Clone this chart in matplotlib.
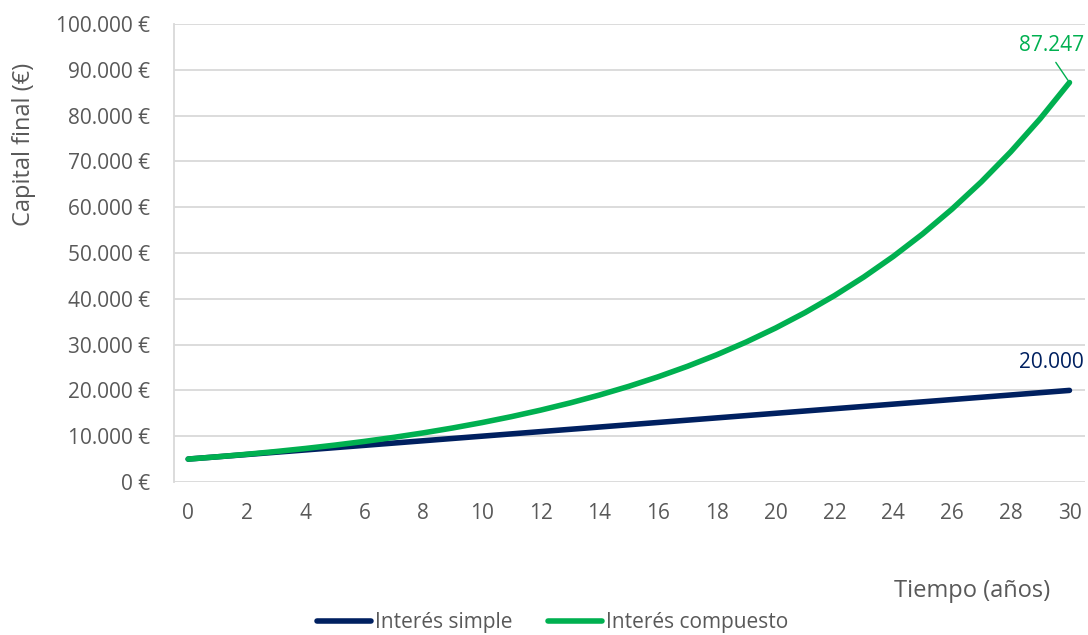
import matplotlib.pyplot as plt
from matplotlib.ticker import FuncFormatter

# capital over time, 5.000 € at 10 % per year
years = list(range(31))
simple = [5000, 5500, 6000, 6500, 7000, 7500, 8000, 8500, 9000, 9500,
          10000, 10500, 11000, 11500, 12000, 12500, 13000, 13500, 14000, 14500,
          15000, 15500, 16000, 16500, 17000, 17500, 18000, 18500, 19000, 19500,
          20000]
compound = [5000.00, 5500.00, 6050.00, 6655.00, 7320.50, 8052.55, 8857.81,
            9743.59, 10717.94, 11789.74, 12968.71, 14265.58, 15692.14,
            17261.36, 18987.49, 20886.24, 22974.86, 25272.35, 27799.58,
            30579.54, 33637.50, 37001.25, 40701.37, 44771.51, 49248.66,
            54173.53, 59590.88, 65549.97, 72104.97, 79315.46, 87247.01]
series_names = ["Interés simple", "Interés compuesto"]
x_ticks = list(range(0, 31, 2))
y_ticks = list(range(0, 100001, 10000))

NAVY = "#002060"
GREEN = "#00B050"
GRAY = "#595959"
GRID = "#D9D9D9"

plt.rcParams["font.family"] = ["Open Sans", "DejaVu Sans"]

fig = plt.figure(figsize=(10.88, 6.35), dpi=100)
ax = fig.add_axes([0.160, 0.241, 0.837, 0.721])

l1, = ax.plot(years, simple, color=NAVY, lw=4, solid_capstyle="round", zorder=3)
l2, = ax.plot(years, compound, color=GREEN, lw=4, solid_capstyle="round", zorder=4)


def euro(v, _pos):
    return f"{int(v):,} €".replace(",", ".")


ax.set_xlim(-0.48, 30.52)
ax.set_ylim(0, 100000)
ax.set_xticks(x_ticks)
ax.set_yticks(y_ticks)
ax.yaxis.set_major_formatter(FuncFormatter(euro))
ax.tick_params(length=0, labelsize=15, colors=GRAY)
ax.tick_params(axis="y", pad=17)
ax.tick_params(axis="x", pad=15)
ax.grid(axis="y", color=GRID, lw=1.3)
ax.set_axisbelow(True)
for side in ("top", "right", "bottom"):
    ax.spines[side].set_visible(False)
ax.spines["left"].set_color(GRID)
ax.spines["left"].set_linewidth(1.3)

# end-of-series value labels
ax.annotate(f"{compound[-1]:,.0f}".replace(",", "."), xy=(years[-1], compound[-1]),
            xytext=(30.5, 95300), color=GREEN, fontsize=15, ha="right", va="center",
            arrowprops=dict(arrowstyle="-", color=GREEN, lw=1,
                            relpos=(0.5, 0.0), shrinkA=3, shrinkB=2))
ax.text(30.5, 26200, f"{simple[-1]:,}".replace(",", "."), color=NAVY,
        fontsize=15, ha="right", va="center")

fig.text(0.022, 0.773, "Capital final (€)", rotation=90, color=GRAY,
         fontsize=17, ha="center", va="center")
fig.text(0.965, 0.069, "Tiempo (años)", color=GRAY, fontsize=17,
         ha="right", va="center")

fig.legend([l1, l2], series_names, loc="center", bbox_to_anchor=(0.508, 0.02),
           ncol=2, frameon=False, fontsize=15, labelcolor=GRAY,
           handlelength=2.6, handletextpad=0.2, columnspacing=1.7)

fig.savefig("out.png", dpi=100)
